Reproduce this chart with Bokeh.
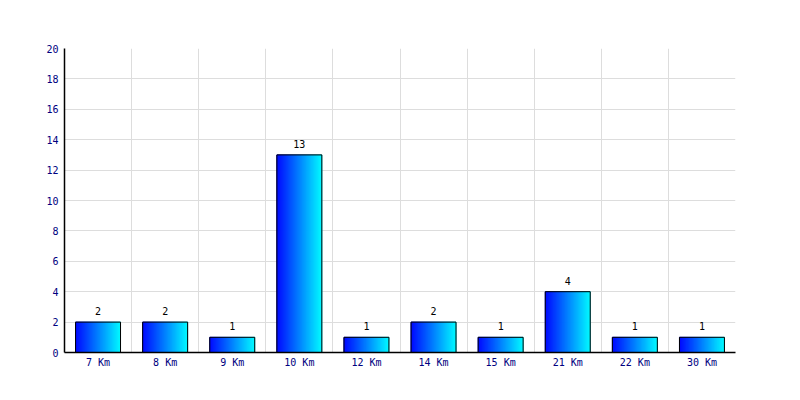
from bokeh.plotting import figure
from bokeh.models import FixedTicker, Range1d, Grid, ColumnDataSource
from bokeh.embed import file_html
from bokeh.resources import INLINE
from bokeh.core.properties import value

categories = ["7 Km", "8 Km", "9 Km", "10 Km", "12 Km", "14 Km", "15 Km", "21 Km", "22 Km", "30 Km"]
counts = [2, 2, 1, 13, 1, 2, 1, 4, 1, 1]
y_ticks = [0, 2, 4, 6, 8, 10, 12, 14, 16, 18, 20]

FONT = "DejaVu Sans Mono"
NAVY = "#000080"
BAR_W = 0.67
N_SLICES = 45

centers = [i + 0.5 for i in range(len(categories))]

p = figure(width=792, height=392, output_backend="svg", toolbar_location=None,
           x_range=Range1d(0, len(categories)), y_range=Range1d(0, 20),
           min_border_left=64, min_border_right=57, min_border_top=48, min_border_bottom=40)
p.outline_line_color = None
p.background_fill_color = "white"
p.border_fill_color = "white"

# gradient bars via vertical slices
def lerp_color(t):
    g = int(round(8 + t * (245 - 8)))
    return "#%02x%02x%02x" % (0, g, 255)

lefts, rights, tops, colors = [], [], [], []
for c, v in zip(centers, counts):
    x0 = c - BAR_W / 2
    step = BAR_W / N_SLICES
    for k in range(N_SLICES):
        lefts.append(x0 + k * step)
        rights.append(x0 + (k + 1) * step)
        tops.append(v)
        colors.append(lerp_color(k / (N_SLICES - 1)))
p.quad(left=lefts, right=rights, bottom=0, top=tops, fill_color=colors,
       line_color=colors, line_width=1)

src = ColumnDataSource(dict(x=centers, top=counts, lab=[str(v) for v in counts]))
p.vbar(x="x", top="top", width=BAR_W, bottom=0, source=src, fill_color=None,
       line_color="black", line_width=1)
p.text(x="x", y="top", text="lab", source=src, text_align="center", text_baseline="bottom",
       y_offset=-7, text_font=value(FONT), text_font_size="10px", text_color="black")

# axes
p.xaxis.ticker = FixedTicker(ticks=centers)
p.xaxis.major_label_overrides = {c: lab for c, lab in zip(centers, categories)}
p.yaxis.ticker = FixedTicker(ticks=y_ticks)
for ax in (p.xaxis[0], p.yaxis[0]):
    ax.major_tick_line_color = None
    ax.minor_tick_line_color = None
    ax.major_tick_out = 0
    ax.major_tick_in = 0
    ax.minor_tick_out = 0
    ax.axis_line_color = "black"
    ax.axis_line_width = 1.5
    ax.major_label_text_font = FONT
    ax.major_label_text_font_size = "10px"
    ax.major_label_text_color = NAVY
p.xaxis.major_label_standoff = 4
p.yaxis.major_label_standoff = 6

# grids
p.xgrid.grid_line_color = None
p.ygrid.ticker = FixedTicker(ticks=y_ticks[1:])
p.ygrid.grid_line_color = "#dddddd"
p.ygrid.grid_line_width = 1
p.ygrid.level = "underlay"
xg = Grid(dimension=0, ticker=FixedTicker(ticks=list(range(1, len(categories) + 1))),
          grid_line_color="#dddddd", grid_line_width=1, level="underlay")
p.add_layout(xg)

open("out.html", "w").write(file_html(p, INLINE))
